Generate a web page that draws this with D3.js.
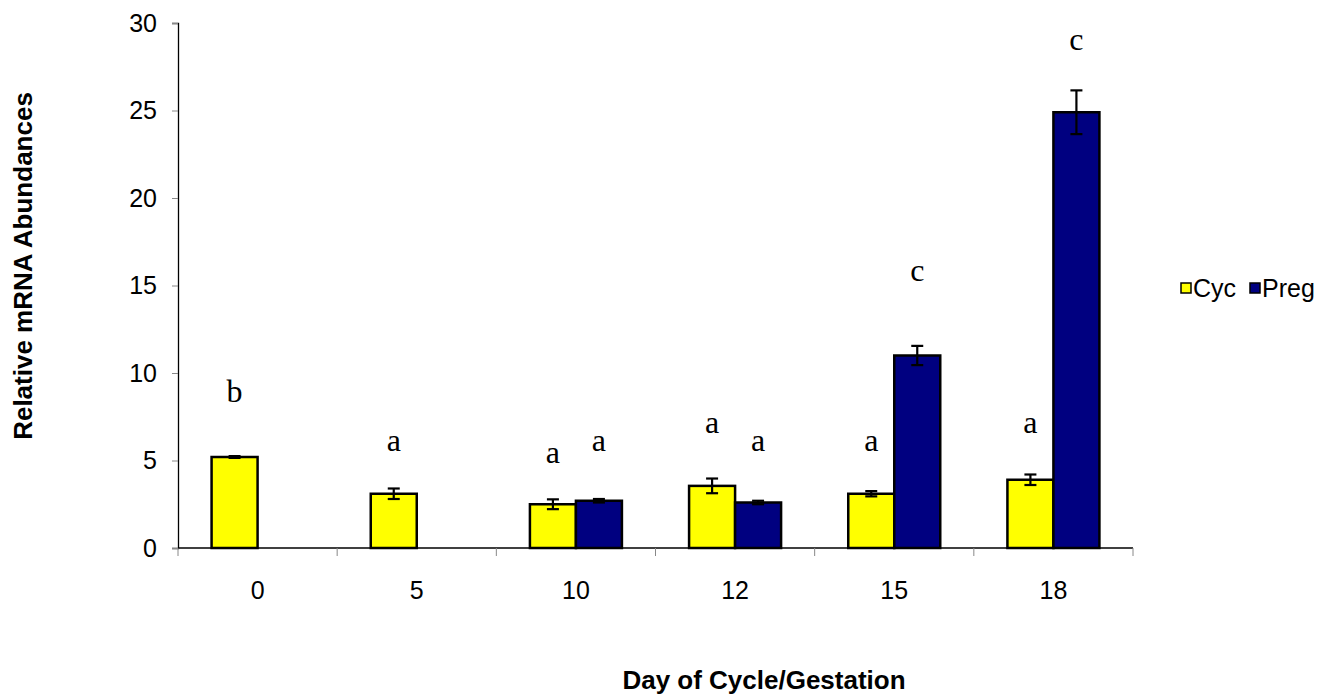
<!DOCTYPE html>
<html>
<head>
<meta charset="utf-8">
<script src="https://cdn.jsdelivr.net/npm/d3@7/dist/d3.min.js"></script>
<style>
  body { margin: 0; background: #fff; }
  svg { display: block; }
</style>
</head>
<body>
<script>
// values
const days = ["0", "5", "10", "12", "15", "18"];
const seriesNames = ["Cyc", "Preg"];
const cycValues = [5.2, 3.1, 2.5, 3.55, 3.1, 3.9];
const cycErrors = [0.05, 0.3, 0.28, 0.42, 0.15, 0.3];
const pregValues = [null, null, 2.7, 2.6, 11.0, 24.9];
const pregErrors = [null, null, 0.1, 0.1, 0.55, 1.25];
const cycLetters = ["b", "a", "a", "a", "a", "a"];
const cycLetterY = [8.9, 6.1, 5.4, 7.1, 6.1, 7.1];
const pregLetters = [null, null, "a", "a", "c", "c"];
const pregLetterY = [null, null, 6.1, 6.1, 15.8, 29.0];
const yTicks = [0, 5, 10, 15, 20, 25, 30];
const colors = {Cyc: "#ffff00", Preg: "#000080"};

const width = 1334, height = 700;
const plot = {left: 178, right: 1133, top: 23, bottom: 548};
const sans = "Arial, 'Liberation Sans', sans-serif";

const svg = d3.select("body").append("svg")
  .attr("width", width)
  .attr("height", height);

svg.append("rect").attr("width", width).attr("height", height).attr("fill", "white");

const x = d3.scaleBand().domain(days).range([plot.left, plot.right]).paddingInner(0).paddingOuter(0);
const xInner = d3.scaleBand().domain(seriesNames).range([0, x.bandwidth()]).paddingInner(0).paddingOuter(0.73);
const y = d3.scaleLinear().domain([0, 30]).range([plot.bottom, plot.top]);

// y axis
const yAxis = svg.append("g").attr("transform", `translate(${plot.left},0)`)
  .call(d3.axisLeft(y).tickValues(yTicks).tickSize(6).tickPadding(15));
yAxis.select(".domain").attr("stroke", "#000").attr("stroke-width", 1.3);
yAxis.selectAll(".tick line").attr("stroke", "#888");
yAxis.selectAll(".tick text").attr("font-family", sans)
  .attr("font-size", 25).attr("fill", "#000");

// x axis line and boundary ticks
svg.append("line")
  .attr("x1", plot.left).attr("x2", plot.right)
  .attr("y1", plot.bottom).attr("y2", plot.bottom)
  .attr("stroke", "#000").attr("stroke-width", 1.3);
const bounds = days.map(d => x(d)).concat([x(days[days.length - 1]) + x.bandwidth()]);
svg.selectAll(".xtick").data(bounds).join("line")
  .attr("class", "xtick")
  .attr("x1", d => d).attr("x2", d => d)
  .attr("y1", plot.bottom).attr("y2", plot.bottom + 8)
  .attr("stroke", "#888");
svg.selectAll(".xlabel").data(days).join("text")
  .attr("class", "xlabel")
  .attr("x", d => x(d) + x.bandwidth() / 2)
  .attr("y", 599)
  .attr("text-anchor", "middle")
  .attr("font-family", sans)
  .attr("font-size", 25)
  .text(d => d);

// bars
const rows = [];
days.forEach((d, i) => {
  rows.push({day: d, s: "Cyc", v: cycValues[i], e: cycErrors[i], l: cycLetters[i], ly: cycLetterY[i]});
  rows.push({day: d, s: "Preg", v: pregValues[i], e: pregErrors[i], l: pregLetters[i], ly: pregLetterY[i]});
});
const barRows = rows.filter(r => r.v != null);

svg.selectAll(".bar").data(barRows).join("rect")
  .attr("class", "bar")
  .attr("x", r => x(r.day) + xInner(r.s))
  .attr("width", xInner.bandwidth())
  .attr("y", r => y(r.v))
  .attr("height", r => y(0) - y(r.v))
  .attr("fill", r => colors[r.s])
  .attr("stroke", "#000")
  .attr("stroke-width", 2.5);

// error bars
const cx = r => x(r.day) + xInner(r.s) + xInner.bandwidth() / 2;
const eb = svg.selectAll(".err").data(barRows).join("g").attr("class", "err")
  .attr("stroke", "#000").attr("stroke-width", 2.2);
eb.append("line")
  .attr("x1", cx).attr("x2", cx)
  .attr("y1", r => y(r.v + r.e)).attr("y2", r => y(r.v - r.e));
eb.append("line")
  .attr("x1", r => cx(r) - 6).attr("x2", r => cx(r) + 6)
  .attr("y1", r => y(r.v + r.e)).attr("y2", r => y(r.v + r.e));
eb.append("line")
  .attr("x1", r => cx(r) - 6).attr("x2", r => cx(r) + 6)
  .attr("y1", r => y(r.v - r.e)).attr("y2", r => y(r.v - r.e));

// significance letters
svg.selectAll(".letter").data(rows.filter(r => r.l)).join("text")
  .attr("class", "letter")
  .attr("x", cx)
  .attr("y", r => y(r.ly))
  .attr("dy", "0.3em")
  .attr("text-anchor", "middle")
  .attr("font-family", "'Liberation Serif', 'Times New Roman', serif")
  .attr("font-size", 32)
  .text(r => r.l);

// axis titles
svg.append("text")
  .attr("x", 764).attr("y", 689)
  .attr("text-anchor", "middle")
  .attr("font-family", sans)
  .attr("font-size", 26).attr("font-weight", "bold")
  .text("Day of Cycle/Gestation");
svg.append("text")
  .attr("transform", "translate(32,266) rotate(-90)")
  .attr("text-anchor", "middle")
  .attr("font-family", sans)
  .attr("font-size", 26).attr("font-weight", "bold")
  .text("Relative mRNA Abundances");

// legend
const legend = svg.append("g").attr("transform", "translate(1181,283)");
const legendX = [0, 69];
seriesNames.forEach((s, i) => {
  const g = legend.append("g").attr("transform", `translate(${legendX[i]},0)`);
  g.append("rect").attr("width", 10).attr("height", 10)
    .attr("fill", colors[s]).attr("stroke", "#000").attr("stroke-width", 1.5);
  g.append("text").attr("x", 12).attr("y", 5).attr("dy", "0.35em")
    .attr("font-family", sans)
    .attr("font-size", 25)
    .text(s);
});
</script>
</body>
</html>
